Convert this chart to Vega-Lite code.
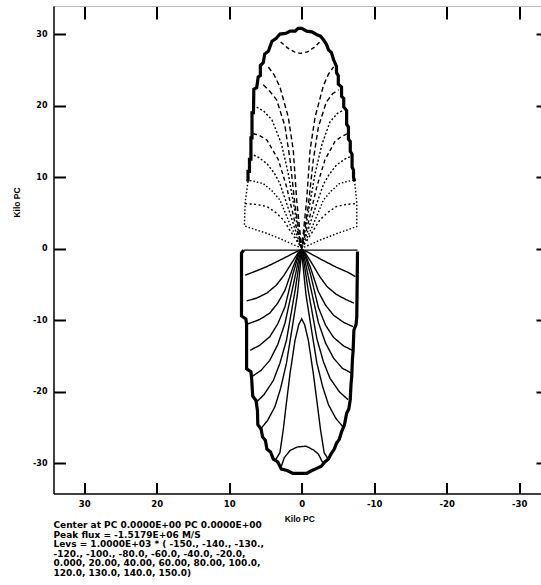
{
  "$schema": "https://vega.github.io/schema/vega-lite/v6.json",
  "autosize": "none",
  "width": 491.5,
  "height": 487.5,
  "padding": {"left": 53.5, "top": 6, "right": 0, "bottom": 91.5},
  "background": "white",
  "config": {"view": {"stroke": null}, "axis": {"grid": false}},
  "title": {
    "text": [
      "Center at PC 0.0000E+00  PC 0.0000E+00",
      "Peak flux = -1.5179E+06 M/S",
      "Levs =  1.0000E+03 * ( -150., -140., -130.,",
      " -120., -100., -80.0, -60.0, -40.0, -20.0,",
      " 0.000, 20.00, 40.00, 60.00, 80.00, 100.0,",
      " 120.0, 130.0, 140.0, 150.0)"
    ],
    "orient": "bottom",
    "anchor": "start",
    "frame": "group",
    "align": "left",
    "font": "DejaVu Sans",
    "fontSize": 9,
    "fontWeight": "bold",
    "lineHeight": 9.5,
    "color": "black",
    "offset": -2
  },
  "datasets": {
    "contours": [
      {"lev":0,"i":0,"x":8.0,"y":-0.2},{"lev":0,"i":1,"x":-7.7,"y":-0.2},

      {"lev":20,"i":0,"x":7.8,"y":-3.7},{"lev":20,"i":1,"x":6.5,"y":-3.2},{"lev":20,"i":2,"x":4.8,"y":-2.5},{"lev":20,"i":3,"x":2.5,"y":-1.35},{"lev":20,"i":4,"x":0.9,"y":-0.5},{"lev":20,"i":5,"x":0,"y":-0.1},{"lev":20,"i":6,"x":-0.9,"y":-0.5},{"lev":20,"i":7,"x":-2.5,"y":-1.4},{"lev":20,"i":8,"x":-4.8,"y":-2.6},{"lev":20,"i":9,"x":-6.4,"y":-3.3},{"lev":20,"i":10,"x":-7.4,"y":-3.9},

      {"lev":40,"i":0,"x":7.6,"y":-7.3},{"lev":40,"i":1,"x":6.2,"y":-6.9},{"lev":40,"i":2,"x":4.8,"y":-6.2},{"lev":40,"i":3,"x":3.5,"y":-5.1},{"lev":40,"i":4,"x":2.5,"y":-3.8},{"lev":40,"i":5,"x":1.2,"y":-1.7},{"lev":40,"i":6,"x":0.5,"y":-0.6},{"lev":40,"i":7,"x":0,"y":-0.1},{"lev":40,"i":8,"x":-0.5,"y":-0.6},{"lev":40,"i":9,"x":-1.2,"y":-1.7},{"lev":40,"i":10,"x":-2.5,"y":-3.9},{"lev":40,"i":11,"x":-3.5,"y":-5.3},{"lev":40,"i":12,"x":-4.8,"y":-6.4},{"lev":40,"i":13,"x":-6.1,"y":-7.1},{"lev":40,"i":14,"x":-7.2,"y":-7.6},

      {"lev":60,"i":0,"x":7.4,"y":-10.5},{"lev":60,"i":1,"x":5.8,"y":-9.9},{"lev":60,"i":2,"x":4.4,"y":-9.0},{"lev":60,"i":3,"x":3.3,"y":-7.6},{"lev":60,"i":4,"x":2.3,"y":-5.8},{"lev":60,"i":5,"x":1.2,"y":-2.6},{"lev":60,"i":6,"x":0.5,"y":-0.8},{"lev":60,"i":7,"x":0,"y":-0.1},{"lev":60,"i":8,"x":-0.5,"y":-0.8},{"lev":60,"i":9,"x":-1.2,"y":-2.6},{"lev":60,"i":10,"x":-2.3,"y":-6.0},{"lev":60,"i":11,"x":-3.3,"y":-7.9},{"lev":60,"i":12,"x":-4.4,"y":-9.3},{"lev":60,"i":13,"x":-5.8,"y":-10.3},{"lev":60,"i":14,"x":-7.1,"y":-10.9},

      {"lev":80,"i":0,"x":7.1,"y":-14.2},{"lev":80,"i":1,"x":5.8,"y":-13.5},{"lev":80,"i":2,"x":4.4,"y":-12.3},{"lev":80,"i":3,"x":3.3,"y":-10.5},{"lev":80,"i":4,"x":2.3,"y":-8.1},{"lev":80,"i":5,"x":1.2,"y":-3.5},{"lev":80,"i":6,"x":0.5,"y":-1.1},{"lev":80,"i":7,"x":0,"y":-0.1},{"lev":80,"i":8,"x":-0.5,"y":-1.1},{"lev":80,"i":9,"x":-1.2,"y":-3.5},{"lev":80,"i":10,"x":-2.3,"y":-8.2},{"lev":80,"i":11,"x":-3.3,"y":-10.7},{"lev":80,"i":12,"x":-4.4,"y":-12.4},{"lev":80,"i":13,"x":-5.8,"y":-13.6},{"lev":80,"i":14,"x":-7.0,"y":-14.2},

      {"lev":100,"i":0,"x":6.9,"y":-17.9},{"lev":100,"i":1,"x":5.6,"y":-17.0},{"lev":100,"i":2,"x":4.4,"y":-15.6},{"lev":100,"i":3,"x":3.3,"y":-13.4},{"lev":100,"i":4,"x":2.3,"y":-10.4},{"lev":100,"i":5,"x":1.1,"y":-4.8},{"lev":100,"i":6,"x":0.4,"y":-1.4},{"lev":100,"i":7,"x":0,"y":-0.1},{"lev":100,"i":8,"x":-0.4,"y":-1.4},{"lev":100,"i":9,"x":-1.1,"y":-4.8},{"lev":100,"i":10,"x":-2.3,"y":-10.3},{"lev":100,"i":11,"x":-3.3,"y":-13.2},{"lev":100,"i":12,"x":-4.4,"y":-15.3},{"lev":100,"i":13,"x":-5.6,"y":-16.7},{"lev":100,"i":14,"x":-6.9,"y":-17.4},

      {"lev":120,"i":0,"x":6.4,"y":-21.6},{"lev":120,"i":1,"x":5.2,"y":-20.4},{"lev":120,"i":2,"x":3.9,"y":-18.4},{"lev":120,"i":3,"x":3.0,"y":-16.0},{"lev":120,"i":4,"x":2.1,"y":-12.8},{"lev":120,"i":5,"x":0.9,"y":-5.8},{"lev":120,"i":6,"x":0.3,"y":-1.8},{"lev":120,"i":7,"x":0,"y":-0.1},{"lev":120,"i":8,"x":-0.3,"y":-1.8},{"lev":120,"i":9,"x":-0.9,"y":-5.8},{"lev":120,"i":10,"x":-2.1,"y":-12.6},{"lev":120,"i":11,"x":-3.0,"y":-15.8},{"lev":120,"i":12,"x":-3.9,"y":-18.1},{"lev":120,"i":13,"x":-5.2,"y":-20.0},{"lev":120,"i":14,"x":-6.4,"y":-21.1},

      {"lev":130,"i":0,"x":5.75,"y":-25.3},{"lev":130,"i":1,"x":4.7,"y":-24.0},{"lev":130,"i":2,"x":3.7,"y":-22.1},{"lev":130,"i":3,"x":2.9,"y":-19.5},{"lev":130,"i":4,"x":2.1,"y":-16.0},{"lev":130,"i":5,"x":1.3,"y":-11.0},{"lev":130,"i":6,"x":0.6,"y":-6.5},{"lev":130,"i":7,"x":0.2,"y":-2.5},{"lev":130,"i":8,"x":0,"y":-0.3},{"lev":130,"i":9,"x":-0.2,"y":-2.5},{"lev":130,"i":10,"x":-0.6,"y":-6.5},{"lev":130,"i":11,"x":-1.3,"y":-11.0},{"lev":130,"i":12,"x":-2.1,"y":-16.0},{"lev":130,"i":13,"x":-2.9,"y":-19.3},{"lev":130,"i":14,"x":-3.7,"y":-21.8},{"lev":130,"i":15,"x":-4.7,"y":-23.7},{"lev":130,"i":16,"x":-5.7,"y":-24.9},

      {"lev":140,"i":0,"x":3.6,"y":-29.5},{"lev":140,"i":1,"x":3.0,"y":-28.5},{"lev":140,"i":2,"x":2.54,"y":-25.3},{"lev":140,"i":3,"x":2.17,"y":-22.1},{"lev":140,"i":4,"x":1.6,"y":-17.4},{"lev":140,"i":5,"x":0.92,"y":-12.8},{"lev":140,"i":6,"x":0.4,"y":-10.6},{"lev":140,"i":7,"x":0,"y":-9.8},{"lev":140,"i":8,"x":-0.4,"y":-10.6},{"lev":140,"i":9,"x":-0.92,"y":-12.8},{"lev":140,"i":10,"x":-1.6,"y":-17.4},{"lev":140,"i":11,"x":-2.2,"y":-22.1},{"lev":140,"i":12,"x":-2.6,"y":-25.3},{"lev":140,"i":13,"x":-3.1,"y":-28.5},{"lev":140,"i":14,"x":-3.7,"y":-29.5},

      {"lev":150,"i":0,"x":2.8,"y":-30.4},{"lev":150,"i":1,"x":2.4,"y":-29.2},{"lev":150,"i":2,"x":1.6,"y":-28.2},{"lev":150,"i":3,"x":0.6,"y":-27.7},{"lev":150,"i":4,"x":-0.6,"y":-27.6},{"lev":150,"i":5,"x":-1.6,"y":-28.1},{"lev":150,"i":6,"x":-2.3,"y":-28.7},{"lev":150,"i":7,"x":-2.9,"y":-29.9},

      {"lev":-20,"i":0,"x":7.4,"y":9.4},{"lev":-20,"i":1,"x":7.8,"y":6.5},{"lev":-20,"i":2,"x":7.9,"y":3.2},{"lev":-20,"i":3,"x":6.5,"y":2.7},{"lev":-20,"i":4,"x":4.8,"y":2.15},{"lev":-20,"i":5,"x":2.5,"y":1.2},{"lev":-20,"i":6,"x":1.0,"y":0.5},{"lev":-20,"i":7,"x":0,"y":0.1},{"lev":-20,"i":8,"x":-1.0,"y":0.5},{"lev":-20,"i":9,"x":-2.5,"y":1.2},{"lev":-20,"i":10,"x":-4.8,"y":2.1},{"lev":-20,"i":11,"x":-6.5,"y":2.7},{"lev":-20,"i":12,"x":-7.6,"y":3.1},{"lev":-20,"i":13,"x":-7.6,"y":6.5},{"lev":-20,"i":14,"x":-7.3,"y":9.4},

      {"lev":-40,"i":0,"x":7.8,"y":6.3},{"lev":-40,"i":1,"x":6.3,"y":6.2},{"lev":-40,"i":2,"x":4.8,"y":5.9},{"lev":-40,"i":3,"x":3.5,"y":5.0},{"lev":-40,"i":4,"x":2.5,"y":4.0},{"lev":-40,"i":5,"x":1.2,"y":1.9},{"lev":-40,"i":6,"x":0.5,"y":0.8},{"lev":-40,"i":7,"x":0,"y":0.1},{"lev":-40,"i":8,"x":-0.5,"y":0.8},{"lev":-40,"i":9,"x":-1.2,"y":1.9},{"lev":-40,"i":10,"x":-2.5,"y":4.0},{"lev":-40,"i":11,"x":-3.5,"y":5.0},{"lev":-40,"i":12,"x":-4.8,"y":5.9},{"lev":-40,"i":13,"x":-6.2,"y":6.2},{"lev":-40,"i":14,"x":-7.5,"y":6.3},

      {"lev":-60,"i":0,"x":7.6,"y":9.6},{"lev":-60,"i":1,"x":6.5,"y":9.4},{"lev":-60,"i":2,"x":5.3,"y":9.1},{"lev":-60,"i":3,"x":4.0,"y":8.0},{"lev":-60,"i":4,"x":3.0,"y":6.8},{"lev":-60,"i":5,"x":1.6,"y":3.4},{"lev":-60,"i":6,"x":0.5,"y":1.0},{"lev":-60,"i":7,"x":0,"y":0.1},{"lev":-60,"i":8,"x":-0.5,"y":1.0},{"lev":-60,"i":9,"x":-1.6,"y":3.4},{"lev":-60,"i":10,"x":-3.0,"y":6.8},{"lev":-60,"i":11,"x":-4.0,"y":8.0},{"lev":-60,"i":12,"x":-5.2,"y":9.1},{"lev":-60,"i":13,"x":-6.3,"y":9.4},{"lev":-60,"i":14,"x":-7.2,"y":9.6},

      {"lev":-80,"i":0,"x":7.1,"y":13.3},{"lev":-80,"i":1,"x":6.0,"y":12.8},{"lev":-80,"i":2,"x":4.8,"y":11.9},{"lev":-80,"i":3,"x":3.8,"y":10.6},{"lev":-80,"i":4,"x":3.0,"y":9.1},{"lev":-80,"i":5,"x":1.6,"y":4.9},{"lev":-80,"i":6,"x":0.5,"y":1.4},{"lev":-80,"i":7,"x":0,"y":0.1},{"lev":-80,"i":8,"x":-0.5,"y":1.4},{"lev":-80,"i":9,"x":-1.6,"y":4.9},{"lev":-80,"i":10,"x":-3.0,"y":9.0},{"lev":-80,"i":11,"x":-3.8,"y":10.4},{"lev":-80,"i":12,"x":-4.8,"y":11.7},{"lev":-80,"i":13,"x":-5.9,"y":12.5},{"lev":-80,"i":14,"x":-6.8,"y":12.9},

      {"lev":-100,"i":0,"x":6.7,"y":16.1},{"lev":-100,"i":1,"x":5.8,"y":15.8},{"lev":-100,"i":2,"x":4.8,"y":15.2},{"lev":-100,"i":3,"x":3.2,"y":12.4},{"lev":-100,"i":4,"x":2.1,"y":8.7},{"lev":-100,"i":5,"x":1.0,"y":4.0},{"lev":-100,"i":6,"x":0.3,"y":1.2},{"lev":-100,"i":7,"x":0,"y":0.1},{"lev":-100,"i":8,"x":-0.3,"y":1.2},{"lev":-100,"i":9,"x":-1.0,"y":4.0},{"lev":-100,"i":10,"x":-2.1,"y":8.7},{"lev":-100,"i":11,"x":-3.2,"y":12.4},{"lev":-100,"i":12,"x":-4.6,"y":15.0},{"lev":-100,"i":13,"x":-5.5,"y":15.7},{"lev":-100,"i":14,"x":-6.4,"y":16.1},

      {"lev":-120,"i":0,"x":6.2,"y":19.8},{"lev":-120,"i":1,"x":5.2,"y":19.2},{"lev":-120,"i":2,"x":4.1,"y":18.0},{"lev":-120,"i":3,"x":2.8,"y":14.7},{"lev":-120,"i":4,"x":1.85,"y":10.5},{"lev":-120,"i":5,"x":0.9,"y":5.0},{"lev":-120,"i":6,"x":0.3,"y":1.5},{"lev":-120,"i":7,"x":0,"y":0.1},{"lev":-120,"i":8,"x":-0.3,"y":1.5},{"lev":-120,"i":9,"x":-0.9,"y":5.0},{"lev":-120,"i":10,"x":-1.85,"y":10.5},{"lev":-120,"i":11,"x":-2.8,"y":14.6},{"lev":-120,"i":12,"x":-3.9,"y":17.7},{"lev":-120,"i":13,"x":-4.9,"y":18.9},{"lev":-120,"i":14,"x":-5.8,"y":19.4},

      {"lev":-130,"i":0,"x":5.3,"y":22.9},{"lev":-130,"i":1,"x":4.4,"y":22.0},{"lev":-130,"i":2,"x":3.45,"y":20.8},{"lev":-130,"i":3,"x":2.3,"y":17.1},{"lev":-130,"i":4,"x":1.6,"y":12.4},{"lev":-130,"i":5,"x":0.9,"y":5.9},{"lev":-130,"i":6,"x":0.3,"y":2.0},{"lev":-130,"i":7,"x":0,"y":0.1},{"lev":-130,"i":8,"x":-0.3,"y":2.0},{"lev":-130,"i":9,"x":-0.9,"y":5.9},{"lev":-130,"i":10,"x":-1.6,"y":12.4},{"lev":-130,"i":11,"x":-2.3,"y":17.0},{"lev":-130,"i":12,"x":-3.4,"y":20.5},{"lev":-130,"i":13,"x":-4.3,"y":21.7},{"lev":-130,"i":14,"x":-5.1,"y":22.2},

      {"lev":-140,"i":0,"x":4.6,"y":25.4},{"lev":-140,"i":1,"x":3.8,"y":24.3},{"lev":-140,"i":2,"x":3.0,"y":22.6},{"lev":-140,"i":3,"x":1.85,"y":18.4},{"lev":-140,"i":4,"x":1.16,"y":13.8},{"lev":-140,"i":5,"x":0.69,"y":6.8},{"lev":-140,"i":6,"x":0.2,"y":2.0},{"lev":-140,"i":7,"x":0,"y":0.1},{"lev":-140,"i":8,"x":-0.2,"y":2.0},{"lev":-140,"i":9,"x":-0.69,"y":6.8},{"lev":-140,"i":10,"x":-1.16,"y":13.8},{"lev":-140,"i":11,"x":-1.85,"y":18.4},{"lev":-140,"i":12,"x":-3.0,"y":22.8},{"lev":-140,"i":13,"x":-3.7,"y":24.4},{"lev":-140,"i":14,"x":-4.4,"y":25.4},

      {"lev":-150,"i":0,"x":2.9,"y":28.9},{"lev":-150,"i":1,"x":2.0,"y":28.1},{"lev":-150,"i":2,"x":1.0,"y":27.5},{"lev":-150,"i":3,"x":0.2,"y":27.3},{"lev":-150,"i":4,"x":-0.8,"y":27.5},{"lev":-150,"i":5,"x":-1.8,"y":28.2},{"lev":-150,"i":6,"x":-2.6,"y":29.0}
    ],
    "edges": [
      {"part":"upper","i":0,"x":7.4,"y":9.4},{"part":"upper","i":1,"x":7.4,"y":10.8},{"part":"upper","i":2,"x":7.2,"y":10.8},{"part":"upper","i":3,"x":7.2,"y":12.5},{"part":"upper","i":4,"x":7.0,"y":12.5},{"part":"upper","i":5,"x":7.0,"y":15.5},{"part":"upper","i":6,"x":6.85,"y":15.5},{"part":"upper","i":7,"x":6.85,"y":19.0},{"part":"upper","i":8,"x":6.65,"y":19.0},{"part":"upper","i":9,"x":6.6,"y":22.3},{"part":"upper","i":10,"x":6.2,"y":22.5},{"part":"upper","i":11,"x":6.0,"y":24.0},{"part":"upper","i":12,"x":5.7,"y":24.2},{"part":"upper","i":13,"x":5.7,"y":25.6},{"part":"upper","i":14,"x":5.3,"y":26.0},{"part":"upper","i":15,"x":5.1,"y":27.2},{"part":"upper","i":16,"x":4.6,"y":27.6},{"part":"upper","i":17,"x":4.1,"y":29.0},{"part":"upper","i":18,"x":3.5,"y":29.4},{"part":"upper","i":19,"x":3.0,"y":30.0},{"part":"upper","i":20,"x":2.2,"y":30.1},{"part":"upper","i":21,"x":1.6,"y":30.4},{"part":"upper","i":22,"x":0.9,"y":30.4},{"part":"upper","i":23,"x":0.5,"y":30.8},{"part":"upper","i":24,"x":0.0,"y":30.8},{"part":"upper","i":25,"x":-0.7,"y":30.4},{"part":"upper","i":26,"x":-1.4,"y":30.3},{"part":"upper","i":27,"x":-2.1,"y":29.9},{"part":"upper","i":28,"x":-2.6,"y":29.7},{"part":"upper","i":29,"x":-3.0,"y":29.2},{"part":"upper","i":30,"x":-3.4,"y":28.6},{"part":"upper","i":31,"x":-3.7,"y":27.8},{"part":"upper","i":32,"x":-4.1,"y":27.4},{"part":"upper","i":33,"x":-4.4,"y":26.4},{"part":"upper","i":34,"x":-4.8,"y":25.5},{"part":"upper","i":35,"x":-4.8,"y":24.6},{"part":"upper","i":36,"x":-5.05,"y":24.2},{"part":"upper","i":37,"x":-5.05,"y":23.0},{"part":"upper","i":38,"x":-5.5,"y":22.6},{"part":"upper","i":39,"x":-5.5,"y":21.3},{"part":"upper","i":40,"x":-5.8,"y":21.0},{"part":"upper","i":41,"x":-5.8,"y":19.8},{"part":"upper","i":42,"x":-6.2,"y":19.3},{"part":"upper","i":43,"x":-6.2,"y":17.4},{"part":"upper","i":44,"x":-6.45,"y":17.0},{"part":"upper","i":45,"x":-6.45,"y":15.3},{"part":"upper","i":46,"x":-6.7,"y":15.0},{"part":"upper","i":47,"x":-6.7,"y":13.6},{"part":"upper","i":48,"x":-6.95,"y":13.2},{"part":"upper","i":49,"x":-6.95,"y":11.4},{"part":"upper","i":50,"x":-7.15,"y":11.0},{"part":"upper","i":51,"x":-7.15,"y":10.0},{"part":"upper","i":52,"x":-7.3,"y":9.4},

      {"part":"lower","i":0,"x":8.0,"y":-0.2},{"part":"lower","i":1,"x":8.3,"y":-0.6},{"part":"lower","i":2,"x":8.3,"y":-9.4},{"part":"lower","i":3,"x":7.7,"y":-9.8},{"part":"lower","i":4,"x":7.6,"y":-10.5},{"part":"lower","i":5,"x":7.6,"y":-16.8},{"part":"lower","i":6,"x":7.0,"y":-17.2},{"part":"lower","i":7,"x":6.9,"y":-18.2},{"part":"lower","i":8,"x":6.75,"y":-20.6},{"part":"lower","i":9,"x":6.3,"y":-21.2},{"part":"lower","i":10,"x":6.1,"y":-22.6},{"part":"lower","i":11,"x":6.05,"y":-24.6},{"part":"lower","i":12,"x":5.6,"y":-25.2},{"part":"lower","i":13,"x":5.4,"y":-26.3},{"part":"lower","i":14,"x":5.0,"y":-26.8},{"part":"lower","i":15,"x":4.8,"y":-28.0},{"part":"lower","i":16,"x":4.3,"y":-28.4},{"part":"lower","i":17,"x":3.9,"y":-29.4},{"part":"lower","i":18,"x":3.3,"y":-29.8},{"part":"lower","i":19,"x":2.8,"y":-30.8},{"part":"lower","i":20,"x":2.0,"y":-31.0},{"part":"lower","i":21,"x":1.2,"y":-31.4},{"part":"lower","i":22,"x":-0.7,"y":-31.4},{"part":"lower","i":23,"x":-1.4,"y":-31.0},{"part":"lower","i":24,"x":-2.1,"y":-30.7},{"part":"lower","i":25,"x":-2.7,"y":-30.4},{"part":"lower","i":26,"x":-3.2,"y":-29.8},{"part":"lower","i":27,"x":-3.7,"y":-29.4},{"part":"lower","i":28,"x":-4.1,"y":-28.6},{"part":"lower","i":29,"x":-4.5,"y":-28.0},{"part":"lower","i":30,"x":-4.8,"y":-27.2},{"part":"lower","i":31,"x":-5.2,"y":-26.6},{"part":"lower","i":32,"x":-5.5,"y":-25.6},{"part":"lower","i":33,"x":-5.9,"y":-24.6},{"part":"lower","i":34,"x":-6.2,"y":-23.0},{"part":"lower","i":35,"x":-6.5,"y":-22.4},{"part":"lower","i":36,"x":-6.7,"y":-21.1},{"part":"lower","i":37,"x":-6.8,"y":-19.0},{"part":"lower","i":38,"x":-6.9,"y":-17.9},{"part":"lower","i":39,"x":-7.0,"y":-15.5},{"part":"lower","i":40,"x":-7.1,"y":-14.2},{"part":"lower","i":41,"x":-7.2,"y":-11.4},{"part":"lower","i":42,"x":-7.5,"y":-10.6},{"part":"lower","i":43,"x":-7.6,"y":-9.5},{"part":"lower","i":44,"x":-7.7,"y":-0.4}
    ]
  },
  "layer": [
    {
      "data": {"name": "contours"},
      "mark": {"type": "line", "color": "black", "strokeWidth": 1.4, "clip": false},
      "encoding": {
        "x": {
          "field": "x", "type": "quantitative",
          "scale": {"domain": [-33.56, 34.23], "reverse": true, "nice": false, "zero": false},
          "axis": {
            "orient": "bottom", "values": [-30, -20, -10, 0, 10, 20, 30], "zindex": 1,
            "tickSize": -11, "tickWidth": 2, "tickColor": "black",
            "domainColor": "black", "domainWidth": 1.5,
            "labelFont": "DejaVu Sans", "labelFontSize": 8.5, "labelFontWeight": "bold", "labelColor": "black",
            "labelPadding": 16.5, "labelExpr": "'' + datum.value",
            "title": "Kilo PC", "titleFont": "Liberation Sans", "titleFontSize": 8.5, "titleFontWeight": "bold", "titleColor": "black",
            "titlePadding": 7
          }
        },
        "y": {
          "field": "y", "type": "quantitative",
          "scale": {"domain": [-34.21, 33.92], "nice": false, "zero": false},
          "axis": {
            "orient": "left", "values": [-30, -20, -10, 0, 10, 20, 30], "zindex": 1,
            "tickSize": -12, "tickWidth": 2, "tickColor": "black",
            "domainColor": "black", "domainWidth": 1.5,
            "labelFont": "DejaVu Sans", "labelFontSize": 8, "labelFontWeight": "bold", "labelColor": "black",
            "labelPadding": 18.5, "labelExpr": "'' + datum.value",
            "title": "Kilo PC", "titleFont": "Liberation Sans", "titleFontSize": 8.5, "titleFontWeight": "bold", "titleColor": "black",
            "titleX": -37, "titleY": 196, "titleAlign": "center", "titleBaseline": "middle", "titleAngle": -90
          }
        },
        "detail": {"field": "lev", "type": "nominal"},
        "order": {"field": "i", "type": "quantitative"},
        "strokeDash": {
          "field": "lev", "type": "nominal", "legend": null,
          "scale": {
            "domain": [-150, -140, -130, -120, -100, -80, -60, -40, -20, 0, 20, 40, 60, 80, 100, 120, 130, 140, 150],
            "range": [[4, 3], [5, 3], [5, 3], [2, 2], [4, 3], [2, 2], [1.5, 2], [2, 2.5], [1.5, 2], [1, 0], [1, 0], [1, 0], [1, 0], [1, 0], [1, 0], [1, 0], [1, 0], [1, 0], [1, 0]]
          }
        }
      }
    },
    {
      "data": {"name": "edges"},
      "mark": {"type": "line", "color": "black", "strokeWidth": 3.2, "clip": false},
      "encoding": {
        "x": {
          "field": "x", "type": "quantitative",
          "axis": {
            "orient": "top", "values": [-30, -20, -10, 0, 10, 20, 30], "zindex": 1,
            "tickSize": -13, "tickWidth": 2, "tickColor": "black",
            "domainColor": "#bbbbbb", "domainWidth": 1,
            "labels": false, "title": null
          }
        },
        "y": {
          "field": "y", "type": "quantitative",
          "axis": {
            "orient": "right", "values": [-30, -20, -10, 0, 10, 20, 30], "zindex": 1,
            "tickSize": -9, "tickWidth": 2, "tickColor": "black",
            "domainColor": "black", "domainWidth": 1.5,
            "labels": false, "title": null
          }
        },
        "detail": {"field": "part", "type": "nominal"},
        "order": {"field": "i", "type": "quantitative"}
      }
    }
  ],
  "resolve": {"axis": {"x": "independent", "y": "independent"}}
}
